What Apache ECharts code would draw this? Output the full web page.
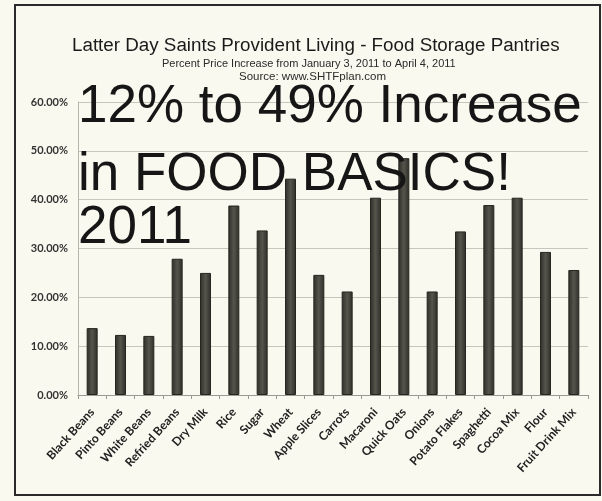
<!DOCTYPE html>
<html>
<head>
<meta charset="utf-8">
<script src="https://cdn.jsdelivr.net/npm/echarts@6/dist/echarts.min.js"></script>
<style>
html,body{margin:0;padding:0;background:#f9f9ef;}
#main{width:602px;height:501px;}
</style>
</head>
<body>
<div id="main"></div>
<script>
var foods = ['Black Beans','Pinto Beans','White Beans','Refried Beans','Dry Milk','Rice','Sugar','Wheat','Apple Slices','Carrots','Macaroni','Quick Oats','Onions','Potato Flakes','Spaghetti','Cocoa Mix','Flour','Fruit Drink Mix'];
var increase = [13.7, 12.3, 12.1, 27.9, 25.0, 38.8, 33.7, 44.3, 24.6, 21.2, 40.4, 48.5, 21.2, 33.5, 38.9, 40.4, 29.3, 25.6];
var yTicks = {min: 0, max: 60, interval: 10};
var bigLines = ['12% to 49% Increase', 'in FOOD BASICS!', '2011'];

var myChart = echarts.init(document.getElementById('main'));
var option = {
  backgroundColor: '#f9f9ef',
  animation: false,
  title: [{
    text: 'Latter Day Saints Provident Living - Food Storage Pantries',
    left: 67,
    top: 31,
    textStyle: {fontFamily: 'Liberation Sans', fontSize: 18.8, fontWeight: 'normal', color: '#1a1a1a'}
  }, {
    text: 'Percent Price Increase from January 3, 2011 to April 4, 2011',
    left: 157,
    top: 53,
    textStyle: {fontFamily: 'Liberation Sans', fontSize: 11, fontWeight: 'normal', color: '#2a2a2a'}
  }, {
    text: 'Source: www.SHTFplan.com',
    left: 234,
    top: 66,
    textStyle: {fontFamily: 'Liberation Sans', fontSize: 11.5, fontWeight: 'normal', color: '#2a2a2a'}
  }],
  grid: {left: 78, right: 14, top: 102, bottom: 106, containLabel: false},
  xAxis: {
    type: 'category',
    data: foods,
    axisLine: {lineStyle: {color: '#9a9a92', width: 1}},
    axisTick: {show: true, length: 4, lineStyle: {color: '#9a9a92'}},
    axisLabel: {
      interval: 0,
      rotate: 48,
      margin: 15,
      fontFamily: 'Lato',
      fontWeight: 'bold',
      fontSize: 12,
      color: '#222'
    }
  },
  yAxis: {
    type: 'value',
    min: yTicks.min,
    max: yTicks.max,
    interval: yTicks.interval,
    axisLine: {show: true, lineStyle: {color: '#b5b5ad'}},
    axisTick: {show: false},
    splitLine: {lineStyle: {color: '#c6c6bc', width: 1}},
    axisLabel: {
      margin: 10,
      fontFamily: 'Lato',
      fontWeight: 'bold',
      fontSize: 11,
      color: '#333',
      formatter: function (v) { return v.toFixed(2) + '%'; }
    }
  },
  series: [{
    type: 'bar',
    data: increase,
    barWidth: 11,
    itemStyle: {
      color: new echarts.graphic.LinearGradient(0, 0, 1, 0, [
        {offset: 0, color: '#2e2e29'},
        {offset: 0.5, color: '#55554c'},
        {offset: 1, color: '#2e2e29'}
      ]),
      borderColor: '#26261f',
      borderWidth: 1
    }
  }],
  graphic: [{
    type: 'rect',
    shape: {x: 15, y: 5, width: 585, height: 490},
    style: {fill: null, stroke: '#2a2a2a', lineWidth: 2},
    silent: true
  }].concat(bigLines.map(function (t, i) {
    return {
      type: 'text',
      left: 78,
      top: [81, 149, 202][i],
      style: {
        text: t,
        font: '53px "Liberation Sans"',
        fill: '#161616'
      },
      z: 100
    };
  }))
};
option && myChart.setOption(option);
</script>
</body>
</html>
